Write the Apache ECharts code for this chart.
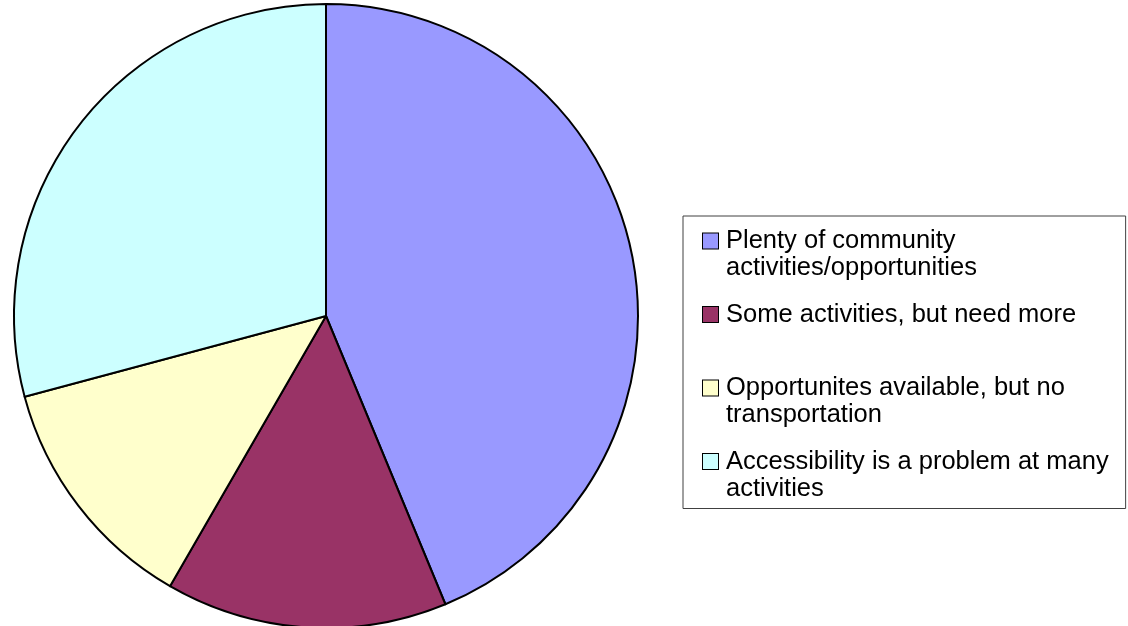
<!DOCTYPE html>
<html>
<head>
<meta charset="utf-8">
<script src="https://cdn.jsdelivr.net/npm/echarts@6/dist/echarts.min.js"></script>
<style>
html,body{margin:0;padding:0;background:#fff;}
#chart{width:1128px;height:626px;}
</style>
</head>
<body>
<div id="chart"></div>
<script>
const categories = [
  'Plenty of community activities/opportunities',
  'Some activities, but need more',
  'Opportunites available, but no transportation',
  'Accessibility is a problem at many activities'
];
const legendLines = [
  ['Plenty of community', 'activities/opportunities'],
  ['Some activities, but need more', ' '],
  ['Opportunites available, but no', 'transportation'],
  ['Accessibility is a problem at many', 'activities']
];
const values = [21, 7, 6, 14];
const colors = ['#9999FF', '#993366', '#FFFFCC', '#CCFFFF'];

const rich = {
  t: { fontFamily: 'Liberation Sans, Arial, sans-serif', fontSize: 25.5, lineHeight: 27, color: '#000' },
  g: { width: 8, height: 15 },
  s: { width: 23, height: 15 }
};
colors.forEach((c, i) => {
  rich['m' + i] = { width: 15, height: 15, backgroundColor: c, borderColor: '#000', borderWidth: 1 };
});

const chart = echarts.init(document.getElementById('chart'), null, { renderer: 'canvas' });
chart.setOption({
  animation: false,
  backgroundColor: '#fff',
  legend: {
    orient: 'vertical',
    left: 683,
    top: 216,
    icon: 'none',
    itemWidth: 0,
    itemHeight: 0,
    itemGap: 20.5,
    selectedMode: false,
    padding: [12, 17, 7, 15],
    borderColor: '#404040',
    borderWidth: 1,
    backgroundColor: '#fff',
    data: categories,
    formatter: function (name) {
      const i = categories.indexOf(name);
      const l = legendLines[i];
      return '{m' + i + '|}{g|}{t|' + l[0] + '}\n{s|}{t|' + l[1] + '}';
    },
    textStyle: { rich: rich }
  },
  series: [{
    type: 'pie',
    center: [326, 316],
    radius: 312,
    startAngle: 90,
    clockwise: true,
    label: { show: false },
    labelLine: { show: false },
    emphasis: { disabled: true },
    itemStyle: { borderColor: '#000', borderWidth: 2 },
    data: categories.map((n, i) => ({ name: n, value: values[i], itemStyle: { color: colors[i] } }))
  }]
});
</script>
</body>
</html>
